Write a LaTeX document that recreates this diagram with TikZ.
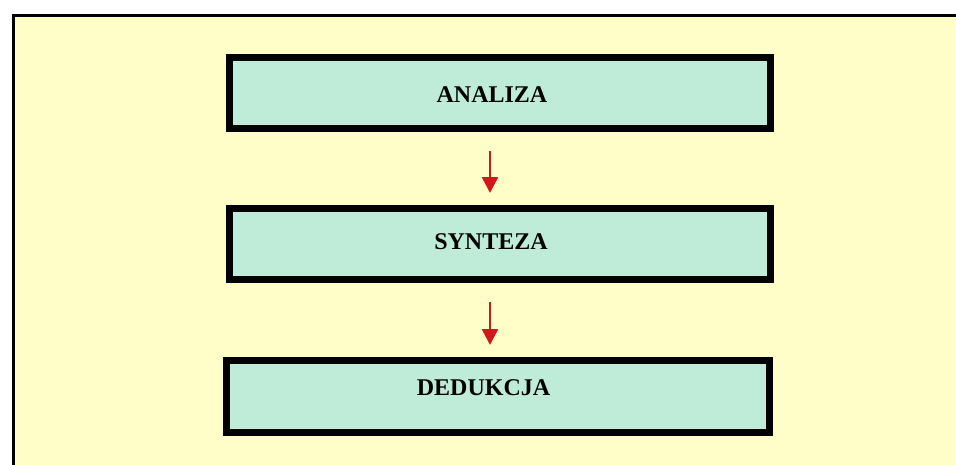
\documentclass[tikz,border=0pt]{standalone}
\usepackage{fontspec}
\setmainfont{Liberation Serif}
\usetikzlibrary{arrows.meta}
\definecolor{paper}{RGB}{255,253,200}
\definecolor{boxfill}{RGB}{190,236,216}
\definecolor{arrred}{RGB}{205,25,25}
\tikzset{
  stepbox/.style={draw=black, line width=7pt, fill=boxfill, inner sep=0pt, minimum width=541pt, minimum height=71pt},
  lbl/.style={inner sep=0pt, anchor=base, font=\fontsize{24}{28}\selectfont\bfseries},
  arr/.style={draw=arrred, line width=2.5pt, -{Triangle[length=16pt,width=16pt]}, shorten <=19pt, shorten >=12pt}
}
\begin{document}
\begin{tikzpicture}[x=1pt,y=-1pt]
\useasboundingbox (0,0) rectangle (956,464);
\fill[white] (0,0) rectangle (956,464);
\draw[line width=3pt, fill=paper] (13.5,15.5) rectangle (980,490);
\node[stepbox] (b1) at (500,93) {};
\node[stepbox] (b2) at (500,244) {};
\node[stepbox, minimum width=543pt, minimum height=72pt] (b3) at (498,396.5) {};
\node[lbl] (t1) at (492,102) {ANALIZA};
\node[lbl] (t2) at (491,249) {SYNTEZA};
\node[lbl] (t3) at (483.5,395) {DEDUKCJA};
\draw[arr] ([xshift=-10pt]b1.south) -- ([xshift=-10pt]b2.north);
\draw[arr] ([xshift=-10pt]b2.south) -- ([xshift=-8pt]b3.north);
\end{tikzpicture}
\end{document}
